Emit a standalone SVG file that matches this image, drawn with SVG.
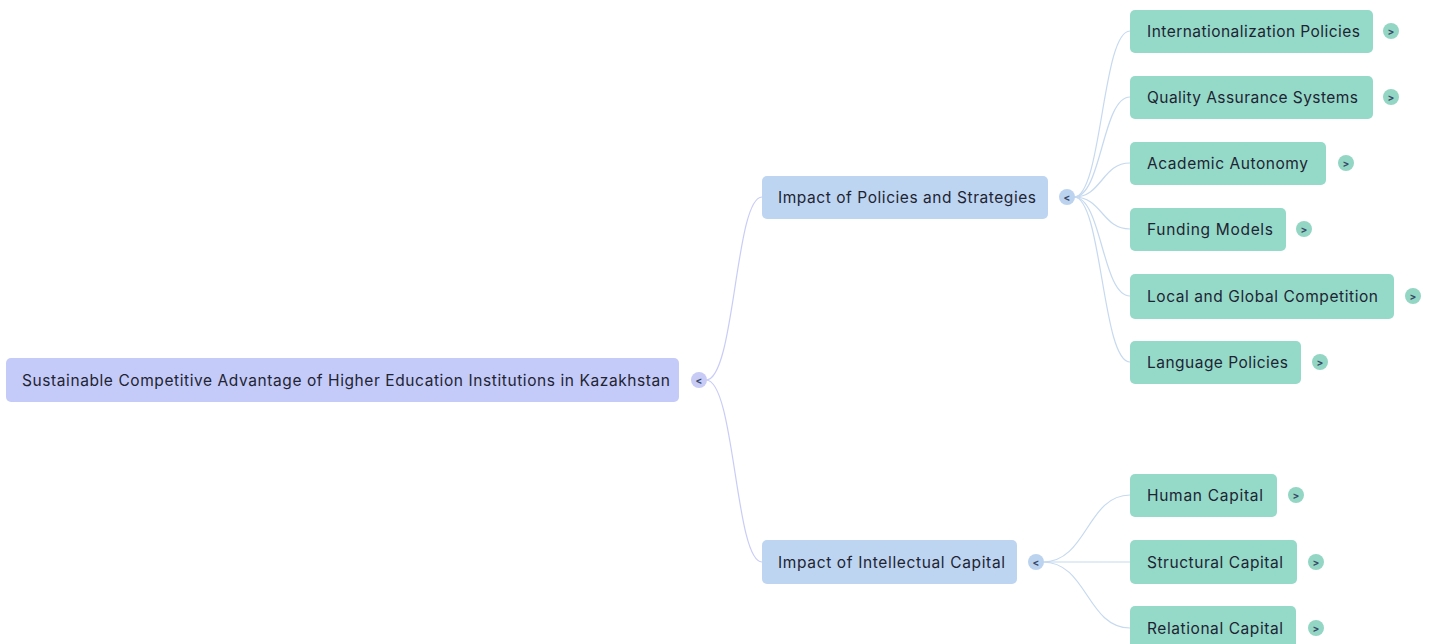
<svg xmlns="http://www.w3.org/2000/svg" width="1434" height="644" viewBox="0 0 1434 644">
<style>
text{font-family:Inter,"Noto Sans","Liberation Sans",sans-serif;font-size:15.5px;fill:#1e2433;dominant-baseline:central}
.root rect.box{fill:#c5cbf8}
.mid rect.box{fill:#bdd5f1}
.leaf rect.box{fill:#95dac8}
.tg text{font-size:10px;font-weight:bold;text-anchor:middle;fill:#3a4a6a}
.root .tg circle{fill:#c7cbf6}
.mid .tg circle{fill:#bcd3ef}
.leaf .tg circle{fill:#93d6c3}
#connectors path{fill:none;stroke-width:1.2}
.c1{stroke:#c9cdf6}
.c2{stroke:#c6d9ef}
</style>
<rect width="1434" height="644" fill="#ffffff"/>
<g id="connectors">
<path class="c1" d="M706,380 C735,380 735,197 762,197"/>
<path class="c1" d="M706,380 C735,380 735,562 762,562"/>
<path class="c2" d="M1074,197 C1102,197 1102,31 1130,31"/>
<path class="c2" d="M1074,197 C1102,197 1102,97 1130,97"/>
<path class="c2" d="M1074,197 C1102,197 1102,163 1130,163"/>
<path class="c2" d="M1074,197 C1102,197 1102,229 1130,229"/>
<path class="c2" d="M1074,197 C1102,197 1102,296 1130,296"/>
<path class="c2" d="M1074,197 C1102,197 1102,362 1130,362"/>
<path class="c2" d="M1043,562 C1087,562 1087,495 1130,495"/>
<path class="c2" d="M1043,562 L1130,562"/>
<path class="c2" d="M1043,562 C1087,562 1087,628 1130,628"/>
</g>
<g id="root" class="root">
<rect class="box" x="6" y="358" width="673" height="44" rx="5"/>
<text x="22" y="380" textLength="648" lengthAdjust="spacing">Sustainable Competitive Advantage of Higher Education Institutions in Kazakhstan</text>
<g class="tg"><circle cx="699" cy="380" r="8"/><text x="699" y="380">&lt;</text></g>
</g>
<g id="policies" class="mid">
<rect class="box" x="762" y="176" width="286" height="43" rx="5"/>
<text x="778" y="197" textLength="258" lengthAdjust="spacing">Impact of Policies and Strategies</text>
<g class="tg"><circle cx="1067" cy="197" r="8"/><text x="1067" y="197">&lt;</text></g>
</g>
<g id="intellectual" class="mid">
<rect class="box" x="762" y="540" width="255" height="44" rx="5"/>
<text x="778" y="562" textLength="227" lengthAdjust="spacing">Impact of Intellectual Capital</text>
<g class="tg"><circle cx="1036" cy="562" r="8"/><text x="1036" y="562">&lt;</text></g>
</g>
<g id="internationalization" class="leaf">
<rect class="box" x="1130" y="10" width="243" height="43" rx="5"/>
<text x="1147" y="31" textLength="213" lengthAdjust="spacing">Internationalization Policies</text>
<g class="tg"><circle cx="1391" cy="31" r="8"/><text x="1391" y="31">&gt;</text></g>
</g>
<g id="quality" class="leaf">
<rect class="box" x="1130" y="76" width="243" height="43" rx="5"/>
<text x="1147" y="97" textLength="211" lengthAdjust="spacing">Quality Assurance Systems</text>
<g class="tg"><circle cx="1391" cy="97" r="8"/><text x="1391" y="97">&gt;</text></g>
</g>
<g id="autonomy" class="leaf">
<rect class="box" x="1130" y="142" width="196" height="43" rx="5"/>
<text x="1147" y="163" textLength="161" lengthAdjust="spacing">Academic Autonomy</text>
<g class="tg"><circle cx="1346" cy="163" r="8"/><text x="1346" y="163">&gt;</text></g>
</g>
<g id="funding" class="leaf">
<rect class="box" x="1130" y="208" width="156" height="43" rx="5"/>
<text x="1147" y="229" textLength="126" lengthAdjust="spacing">Funding Models</text>
<g class="tg"><circle cx="1304" cy="229" r="8"/><text x="1304" y="229">&gt;</text></g>
</g>
<g id="competition" class="leaf">
<rect class="box" x="1130" y="274" width="264" height="45" rx="5"/>
<text x="1147" y="296" textLength="231" lengthAdjust="spacing">Local and Global Competition</text>
<g class="tg"><circle cx="1413" cy="296" r="8"/><text x="1413" y="296">&gt;</text></g>
</g>
<g id="language" class="leaf">
<rect class="box" x="1130" y="341" width="171" height="43" rx="5"/>
<text x="1147" y="362" textLength="141" lengthAdjust="spacing">Language Policies</text>
<g class="tg"><circle cx="1320" cy="362" r="8"/><text x="1320" y="362">&gt;</text></g>
</g>
<g id="human" class="leaf">
<rect class="box" x="1130" y="474" width="147" height="43" rx="5"/>
<text x="1147" y="495" textLength="116" lengthAdjust="spacing">Human Capital</text>
<g class="tg"><circle cx="1296" cy="495" r="8"/><text x="1296" y="495">&gt;</text></g>
</g>
<g id="structural" class="leaf">
<rect class="box" x="1130" y="540" width="167" height="44" rx="5"/>
<text x="1147" y="562" textLength="136" lengthAdjust="spacing">Structural Capital</text>
<g class="tg"><circle cx="1316" cy="562" r="8"/><text x="1316" y="562">&gt;</text></g>
</g>
<g id="relational" class="leaf">
<rect class="box" x="1130" y="606" width="166" height="44" rx="5"/>
<text x="1147" y="628" textLength="136" lengthAdjust="spacing">Relational Capital</text>
<g class="tg"><circle cx="1316" cy="628" r="8"/><text x="1316" y="628">&gt;</text></g>
</g>
</svg>
